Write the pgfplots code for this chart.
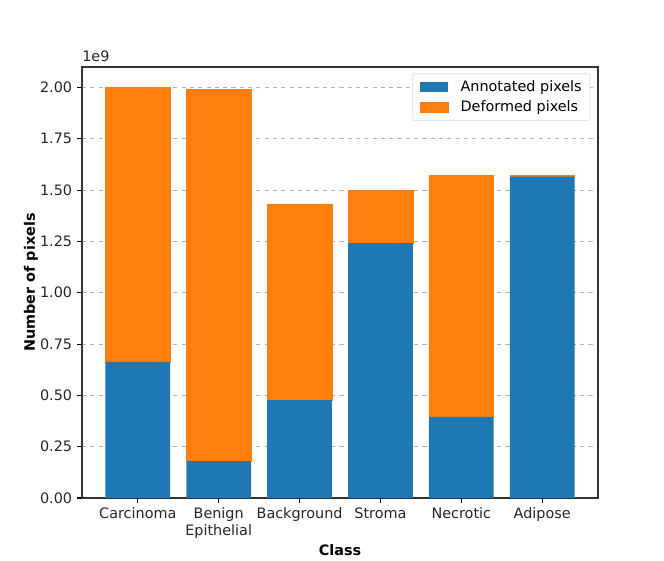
\documentclass[border=0pt]{standalone}
\usepackage{fontspec}
\setmainfont{DejaVu Sans}
\usepackage{pgfplots}
\pgfplotsset{compat=1.18}
\definecolor{mplblue}{HTML}{1F77B4}
\definecolor{mplorange}{HTML}{FF7F0E}
\begin{document}
\fontsize{10.4pt}{12.5pt}\selectfont
\begin{tikzpicture}[x=1in,y=1in]
\begin{axis}[
  at={(0.82in,0.62in)}, anchor=south west,
  scale only axis, width=5.16in, height=4.31in,
  clip=false,
  ybar stacked, bar width=0.8,
  xmin=-0.69, xmax=5.69, ymin=0, ymax=2.1,
  xtick={0,1,2,3,4,5},
  xticklabels={Carcinoma,{Benign\\Epithelial},Background,Stroma,Necrotic,Adipose},
  xticklabel style={align=center, font=\fontsize{10.4pt}{12pt}\selectfont, text=black!85},
  ytick={0,0.25,0.5,0.75,1,1.25,1.5,1.75,2},
  yticklabel style={/pgf/number format/.cd, fixed, fixed zerofill, precision=2, /tikz/.cd, font=\fontsize{10.4pt}{12.5pt}\selectfont, text=black!85},
  /pgf/number format/assume math mode=true,
  tick style={black, line width=0.8pt},
  major tick length=3.5pt,
  tick align=outside, xtick pos=bottom, ytick pos=left,
  ymajorgrids, grid style={dashed, gray!60, line width=0.6pt},
  axis line style={black!80, line width=0.8pt},
  xlabel={\textbf{Class}}, ylabel={\textbf{Number of pixels}},
  xlabel style={yshift=3pt},
  ylabel style={yshift=-5.5pt},
  legend style={at={(0.985,0.985)}, anchor=north east, draw=black!15, rounded corners=2pt, font=\fontsize{10.4pt}{12.5pt}\selectfont, row sep=3pt, inner xsep=5pt, inner ysep=4pt,
    nodes={inner sep=1pt}, /tikz/every odd column/.append style={column sep=8pt}},
  legend cell align=left,
  legend image code/.code={\fill[#1, sharp corners] (0in,-0.05in) rectangle (0.28in,0.05in);},
]
\addplot+[fill=mplblue, draw=none] coordinates {(0,0.663) (1,0.180) (2,0.477) (3,1.242) (4,0.395) (5,1.566)};
\addlegendentry{Annotated pixels}
\addplot+[fill=mplorange, draw=mplorange, line width=0.4pt] coordinates {(0,1.337) (1,1.810) (2,0.956) (3,0.256) (4,1.176) (5,0.007)};
\addlegendentry{Deformed pixels}
\node[anchor=south west, inner sep=0pt, text=black!85] at (rel axis cs:0,1.012) {1e9};
\end{axis}
\useasboundingbox (0,0) rectangle (6.64,5.6);
\end{tikzpicture}
\end{document}
